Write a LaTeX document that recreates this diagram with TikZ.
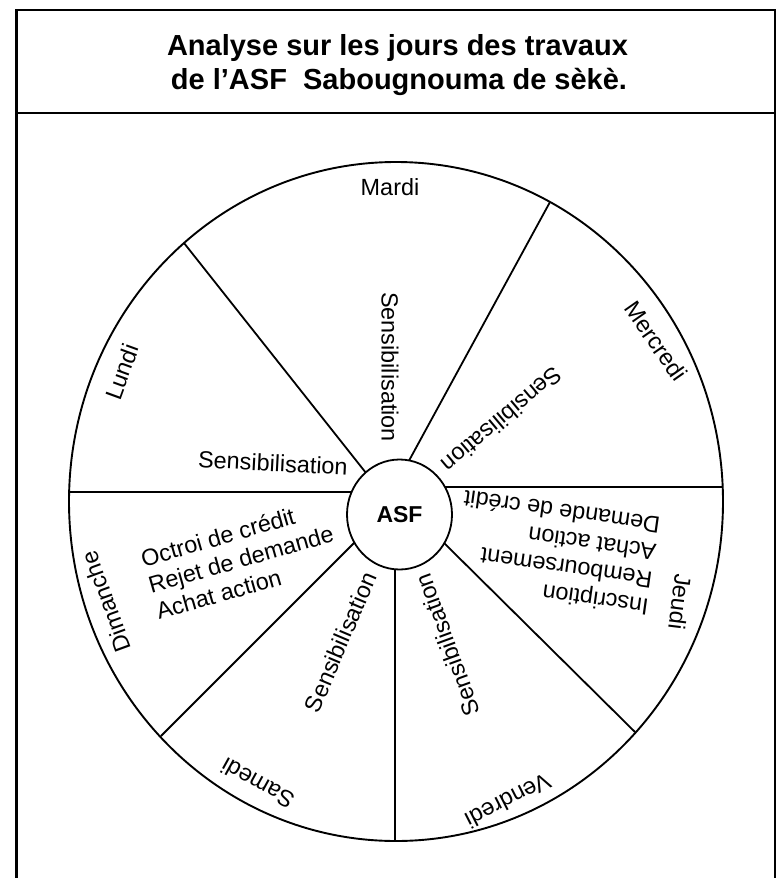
\documentclass[tikz,border=0pt]{standalone}
\usepackage{fontspec}
\setmainfont{Liberation Sans}
\usetikzlibrary{shapes.geometric}
\begin{document}
\begin{tikzpicture}[x=1pt,y=-1pt,
  lbl/.style={font=\fontsize{23.4}{27.5}\selectfont, inner sep=0pt},
  ttl/.style={font=\fontsize{29}{34}\selectfont\bfseries, inner sep=0pt, anchor=base},
  spoke/.style={line width=1.8pt},
  frameline/.style={line width=2.6pt}]
\useasboundingbox (0,0) rectangle (779,878);
% frame
\coordinate (fbl) at (16.5,890);
\coordinate (ftl) at (16.5,10);
\coordinate (ftr) at (775,10);
\coordinate (fbr) at (775,890);
\draw[frameline] (fbl) -- (ftl) -- (ftr) -- (fbr);
\coordinate (sl) at (16.5,113);
\coordinate (sr) at (775,113);
\draw[line width=1.8pt] (sl) -- (sr);
% title
\node[ttl] (t1) at (397.5,55) {Analyse sur les jours des travaux};
\node[ttl] (t2) at (399,89) {de l’ASF\ \ Sabougnouma de sèkè.};
% wheel
\draw[line width=1.9pt] (396,501.5) ellipse [x radius=327pt, y radius=339.5pt];
\coordinate (o1) at (69,492);   \coordinate (i1) at (360,492);
\coordinate (o2) at (184,243);  \coordinate (i2) at (370,478);
\coordinate (o3) at (550,202);  \coordinate (i3) at (405,468);
\coordinate (o4) at (723,487);  \coordinate (i4) at (440,487);
\coordinate (o5) at (635,732);  \coordinate (i5) at (440,539);
\coordinate (o6) at (395,841);  \coordinate (i6) at (395,560);
\coordinate (o7) at (161,736);  \coordinate (i7) at (358,539);
\foreach \k in {1,...,7} {\draw[spoke] (o\k) -- (i\k);}
\node[draw, ellipse, fill=white, line width=1.8pt, minimum width=105pt, minimum height=110pt, inner sep=0pt,
      font=\fontsize{23}{27}\selectfont\bfseries] (asf) at (399.5,514.5) {ASF};
% labels
\node[lbl, anchor=base] (mardi) at (390,195) {Mardi};
\node[lbl, rotate=-90] (s2) at (390,367) {Sensibilisation};
\node[lbl, rotate=-3] (s1) at (273,463) {Sensibilisation};
\node[lbl, rotate=70] (lundi) at (122,372) {Lundi};
\node[lbl, rotate=-55] (mercredi) at (656,341) {Mercredi};
\node[lbl, rotate=220] (s3) at (502,420) {Sensibilisation};
\node[lbl, rotate=-97] (jeudi) at (680,602) {Jeudi};
\node[lbl, rotate=172, align=left] (jtxt) at (556,553) {Inscription\\Remboursement\\Achat action\\Demande de crédit};
\node[lbl, rotate=207] (vendredi) at (508,801) {Vendredi};
\node[lbl, rotate=110] (s4) at (447.5,645) {Sensibilisation};
\node[lbl, rotate=151] (samedi) at (257.5,783.5) {Samedi};
\node[lbl, rotate=67] (s5) at (340.5,642) {Sensibilisation};
\node[lbl, rotate=110] (dimanche) at (106,602) {Dimanche};
\node[lbl, rotate=16, align=left] (dtxt) at (241,559) {Octroi de crédit\\Rejet de demande\\Achat action};
\end{tikzpicture}
\end{document}
